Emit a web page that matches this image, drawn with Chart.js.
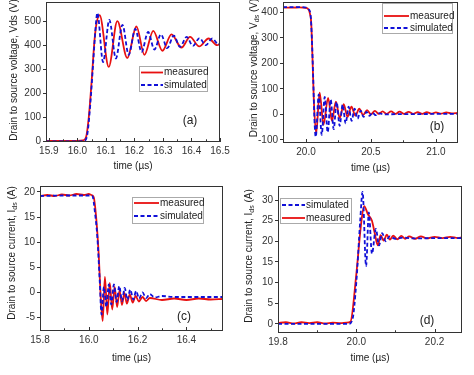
<!DOCTYPE html>
<html>
<head>
<meta charset="utf-8">
<script src="https://cdn.jsdelivr.net/npm/chart.js@4.4.0/dist/chart.umd.min.js"></script>
<style>
  html, body { margin: 0; padding: 0; background: #fff; }
  #wrap { position: relative; width: 474px; height: 375px; }
  .panel { position: absolute; }
</style>
</head>
<body>
<div id="wrap">
  <div class="panel" style="left:0;top:0;width:237px;height:180px"><canvas id="chartA"></canvas></div>
  <div class="panel" style="left:237px;top:0;width:237px;height:180px"><canvas id="chartB"></canvas></div>
  <div class="panel" style="left:0;top:184px;width:237px;height:191px"><canvas id="chartC"></canvas></div>
  <div class="panel" style="left:237px;top:184px;width:237px;height:191px"><canvas id="chartD"></canvas></div>
</div>
<script>
// (a) turn-off drain-source voltage, V
const aMeasT = [15.89, 15.95, 16.0, 16.02, 16.03, 16.04, 16.05, 16.06, 16.067, 16.078, 16.11, 16.14, 16.175, 16.207, 16.235, 16.266, 16.298, 16.33, 16.365, 16.395, 16.427, 16.46, 16.49, 16.5];
const aMeasV = [2, 2, 2, 4, 15, 100, 250, 420, 490, 525, 310, 500, 347, 478, 360, 460, 377, 445, 390, 435, 395, 428, 400, 405];
const aSimT = [15.89, 15.95, 16.0, 16.025, 16.035, 16.045, 16.055, 16.063, 16.07, 16.09, 16.112, 16.135, 16.158, 16.18, 16.203, 16.225, 16.248, 16.27, 16.293, 16.315, 16.338, 16.36, 16.383, 16.405, 16.428, 16.45, 16.473, 16.495, 16.5];
const aSimV = [0, 0, 0, 2, 30, 150, 320, 460, 535, 330, 505, 345, 485, 360, 468, 372, 455, 382, 445, 388, 440, 393, 435, 397, 430, 400, 428, 402, 408];

// (b) turn-on drain-source voltage, V
const bMeasT = [19.823, 19.9, 19.95, 20.0, 20.02, 20.03, 20.04, 20.05, 20.06, 20.078, 20.105, 20.135, 20.17, 20.2, 20.23, 20.26, 20.29, 20.32, 20.35, 20.38, 20.41, 20.44, 20.47, 20.5, 20.53, 20.56, 20.59, 20.62, 20.655, 20.69, 20.72, 20.755, 20.79, 20.825, 20.86, 20.895, 20.93, 20.965, 21.0, 21.04, 21.08, 21.12, 21.17];
const bMeasV = [418, 418, 419, 417, 410, 395, 360, 220, 60, -75, 85, -40, 65, -25, 50, -15, 40, -10, 30, -5, 22, -2, 17, 0, 14, 2, 12, 2, 12, 2, 11, 2, 10, 2, 9, 2, 9, 3, 8, 3, 8, 4, 6];
const bSimT = [19.823, 19.9, 19.95, 20.0, 20.02, 20.035, 20.045, 20.055, 20.065, 20.075, 20.098, 20.121, 20.144, 20.167, 20.19, 20.213, 20.236, 20.259, 20.282, 20.305, 20.328, 20.351, 20.374, 20.397, 20.42, 20.443, 20.466, 20.489, 20.512, 20.535, 20.558, 20.6, 20.7, 20.85, 21.0, 21.17];
const bSimV = [420, 420, 420, 418, 412, 390, 300, 150, -20, -88, 78, -80, 68, -70, 58, -58, 48, -45, 38, -35, 30, -25, 22, -17, 15, -10, 10, -6, 7, -3, 5, 0, 1, 1, 2, 2];

// (c) turn-off drain-source current, A
const cMeasT = [15.8, 15.83, 15.86, 15.89, 15.92, 15.95, 15.98, 16.0, 16.01, 16.02, 16.03, 16.04, 16.05, 16.057, 16.066, 16.076, 16.086, 16.096, 16.106, 16.116, 16.126, 16.136, 16.146, 16.156, 16.168, 16.18, 16.192, 16.205, 16.22, 16.235, 16.25, 16.3, 16.35, 16.4, 16.45, 16.5, 16.55];
const cMeasV = [19.2, 19.4, 19.2, 19.5, 19.3, 19.6, 19.4, 19.6, 19.4, 19.0, 15, 8, -2, -5.8, 3.0, -4.5, 1.8, -3.5, 1.0, -3.0, 0.3, -2.6, -0.2, -2.3, -0.5, -2.1, -0.8, -1.9, -1.0, -1.8, -1.2, -1.6, -1.3, -1.6, -1.3, -1.5, -1.4];
const cSimT = [15.8, 15.9, 16.0, 16.015, 16.025, 16.035, 16.045, 16.052, 16.062, 16.072, 16.082, 16.092, 16.103, 16.114, 16.125, 16.136, 16.147, 16.158, 16.17, 16.182, 16.194, 16.206, 16.22, 16.235, 16.25, 16.27, 16.3, 16.35, 16.4, 16.55];
const cSimV = [19.2, 19.3, 19.3, 19.2, 16, 11, 2, -4.5, 1.0, -3, 1.5, -2.5, 1.5, -2, 1.2, -1.8, 0.8, -1.6, 0.5, -1.5, 0.2, -1.3, -0.1, -1.2, -0.4, -1.1, -0.8, -1.0, -1.0, -1.0];

// (d) turn-on drain-source current, A
const dSimT = [19.8, 19.98, 19.99, 20.0, 20.01, 20.016, 20.025, 20.032, 20.04, 20.05, 20.058, 20.066, 20.075, 20.085, 20.1, 20.12, 20.15, 20.2, 20.27];
const dSimV = [0, 0, 1, 10, 25, 32, 14, 27, 17, 23, 19, 22, 20, 21.2, 20.6, 20.9, 20.7, 20.8, 20.8];
const dMeasT = [19.8, 19.82, 19.84, 19.86, 19.88, 19.9, 19.92, 19.94, 19.96, 19.975, 19.985, 20.0, 20.012, 20.02, 20.03, 20.04, 20.047, 20.055, 20.062, 20.07, 20.078, 20.086, 20.094, 20.105, 20.115, 20.125, 20.135, 20.15, 20.165, 20.18, 20.2, 20.22, 20.24, 20.26, 20.27];
const dMeasV = [0.2, 0.4, 0.1, 0.4, 0.2, 0.4, 0.1, 0.3, 0.2, 0.3, 0.5, 12, 24, 28.5, 26.5, 25, 22, 19, 21.5, 20.2, 21.6, 20.4, 21.4, 20.5, 21.3, 20.6, 21.2, 20.6, 21.2, 20.7, 21.1, 20.8, 21.1, 20.8, 21.0];

const RED = '#e81010';
const BLUE = '#1010d8';
const FONT = "'Liberation Sans', Arial, sans-serif";

// frame, inward x ticks, y title with subscript, legend box and panel letter
const panelDecor = {
  id: 'panelDecor',
  afterDatasetsDraw(chart, args, opts) {
    const { ctx, chartArea: a } = chart;
    const xs = chart.scales.x;
    ctx.save();
    ctx.strokeStyle = '#333';
    ctx.lineWidth = 1;
    ctx.strokeRect(a.left + 0.5, a.top + 0.5, a.right - a.left - 1, a.bottom - a.top - 1);

    // inward ticks on the time axis, minor ones half way
    const step = opts.xStep;
    ctx.beginPath();
    xs.ticks.forEach(t => {
      const px = Math.round(xs.getPixelForValue(t.value)) + 0.5;
      ctx.moveTo(px, a.bottom); ctx.lineTo(px, a.bottom - 4);
      [t.value - step / 2, t.value + step / 2].forEach(m => {
        if (m > xs.min && m < xs.max) {
          const pm = Math.round(xs.getPixelForValue(m)) + 0.5;
          ctx.moveTo(pm, a.bottom); ctx.lineTo(pm, a.bottom - 2.5);
        }
      });
    });
    ctx.stroke();

    // y title
    ctx.save();
    ctx.translate(opts.tx, opts.ty);
    ctx.rotate(-Math.PI / 2);
    ctx.fillStyle = '#222';
    ctx.textBaseline = 'middle';
    const normal = '10px ' + FONT, small = '7px ' + FONT;
    let total = 0;
    opts.ytitle.forEach((s, i) => { ctx.font = i % 2 ? small : normal; total += ctx.measureText(s).width; });
    let x = -total / 2;
    opts.ytitle.forEach((s, i) => {
      ctx.font = i % 2 ? small : normal;
      ctx.fillText(s, x, i % 2 ? 3 : 0);
      x += ctx.measureText(s).width;
    });
    ctx.restore();

    // legend
    const lg = opts.legend;
    ctx.strokeStyle = '#aaa';
    ctx.strokeRect(lg.x + 0.5, lg.y + 0.5, lg.w, lg.h);
    chart.data.datasets.forEach((ds, i) => {
      const ry = lg.rows[i];
      ctx.beginPath();
      ctx.strokeStyle = ds.borderColor;
      ctx.lineWidth = ds.borderWidth;
      ctx.setLineDash(ds.borderDash || []);
      ctx.moveTo(lg.x + 2, ry); ctx.lineTo(lg.x + 2 + lg.sample, ry);
      ctx.stroke();
      ctx.setLineDash([]);
      ctx.fillStyle = '#222';
      ctx.font = '10px ' + FONT;
      ctx.textBaseline = 'middle';
      ctx.textAlign = 'left';
      ctx.fillText(ds.label, lg.x + 3 + lg.sample, ry);
    });

    // panel letter
    ctx.fillStyle = '#222';
    ctx.font = '12px ' + FONT;
    ctx.textAlign = 'center';
    ctx.textBaseline = 'middle';
    ctx.fillText(opts.letter, opts.lx, opts.ly);
    ctx.restore();
  }
};

function makeChart(canvasId, p) {
  const tickFont = { family: FONT, size: 10 };
  return new Chart(document.getElementById(canvasId), {
    type: 'line',
    data: {
      datasets: p.series.map(s => ({
        label: s.label,
        data: s.t.map((t, i) => ({ x: t, y: s.v[i] })),
        borderColor: s.color,
        borderWidth: 1.8,
        borderDash: s.dash || [],
        pointRadius: 0,
        cubicInterpolationMode: 'monotone',
        fill: false,
        order: s.order
      }))
    },
    options: {
      responsive: true,
      maintainAspectRatio: false,
      animation: false,
      layout: { padding: p.pad },
      plugins: {
        legend: { display: false },
        tooltip: { enabled: false },
        panelDecor: p.decor
      },
      scales: {
        x: {
          type: 'linear',
          min: p.xMin,
          max: p.xMax,
          afterFit: s => { s.height = p.xh; s.paddingLeft = 0; s.paddingRight = 0; },
          grid: { display: false, drawTicks: false },
          border: { display: false },
          ticks: {
            stepSize: p.decor.xStep,
            includeBounds: false,
            autoSkip: false,
            maxRotation: 0,
            padding: 3,
            color: '#333',
            font: tickFont,
            callback: v => v.toFixed(1)
          },
          title: {
            display: true,
            text: 'time (µs)',
            color: '#222',
            font: tickFont,
            padding: { top: 0, bottom: p.tpb }
          }
        },
        y: {
          min: p.yMin,
          max: p.yMax,
          afterFit: s => { s.width = p.yw; s.paddingTop = 0; s.paddingBottom = 0; },
          grid: { drawOnChartArea: false, drawTicks: true, tickLength: 3, color: '#333' },
          border: { display: false },
          ticks: {
            stepSize: p.yStep,
            includeBounds: false,
            autoSkip: false,
            padding: 2,
            color: '#333',
            font: tickFont
          }
        }
      }
    },
    plugins: [panelDecor]
  });
}

makeChart('chartA', {
  series: [
    { label: 'measured', t: aMeasT, v: aMeasV, color: RED, order: 1 },
    { label: 'simulated', t: aSimT, v: aSimV, color: BLUE, dash: [4, 2.5], order: 0 }
  ],
  xMin: 15.89, xMax: 16.5, yMin: -3, yMax: 580, yStep: 100,
  pad: { left: 0, top: 2, right: 17, bottom: 0 }, yw: 46, xh: 38, tpb: 8,
  decor: {
    xStep: 0.1, tx: 14, ty: 70,
    ytitle: ['Drain to source voltage, Vds (V)'],
    legend: { x: 139, y: 66, w: 68, h: 25, rows: [72.5, 85], sample: 22 },
    letter: '(a)', lx: 190, ly: 121
  }
});

makeChart('chartB', {
  series: [
    { label: 'measured', t: bMeasT, v: bMeasV, color: RED, order: 1 },
    { label: 'simulated', t: bSimT, v: bSimV, color: BLUE, dash: [4, 2.5], order: 0 }
  ],
  xMin: 19.823, xMax: 21.17, yMin: -112, yMax: 440, yStep: 100,
  pad: { left: 0, top: 2, right: 16, bottom: 0 }, yw: 46, xh: 37, tpb: 6,
  decor: {
    xStep: 0.5, tx: 17, ty: 68,
    ytitle: ['Drain to source voltage, V', 'ds', ' (V)'],
    legend: { x: 145, y: 3, w: 70, h: 30, rows: [16, 28], sample: 25 },
    letter: '(b)', lx: 200, ly: 127
  }
});

makeChart('chartC', {
  series: [
    { label: 'measured', t: cMeasT, v: cMeasV, color: RED, order: 1 },
    { label: 'simulated', t: cSimT, v: cSimV, color: BLUE, dash: [4, 2.5], order: 0 }
  ],
  xMin: 15.8, xMax: 16.55, yMin: -7.8, yMax: 21.2, yStep: 5,
  pad: { left: 0, top: 2, right: 14, bottom: 0 }, yw: 40, xh: 44, tpb: 11,
  decor: {
    xStep: 0.2, tx: 12, ty: 69,
    ytitle: ['Drain to source current, I', 'ds', ' (A)'],
    legend: { x: 132, y: 13, w: 71, h: 26, rows: [19, 32], sample: 25 },
    letter: '(c)', lx: 184, ly: 133
  }
});

makeChart('chartD', {
  series: [
    { label: 'simulated', t: dSimT, v: dSimV, color: BLUE, dash: [4, 2.5], order: 0 },
    { label: 'measured', t: dMeasT, v: dMeasV, color: RED, order: 1 }
  ],
  xMin: 19.8, xMax: 20.27, yMin: -2.2, yMax: 33.4, yStep: 5,
  pad: { left: 0, top: 2, right: 12, bottom: 0 }, yw: 41, xh: 42, tpb: 11,
  decor: {
    xStep: 0.2, tx: 12, ty: 72,
    ytitle: ['Drain to source current, I', 'ds', ' (A)'],
    legend: { x: 43, y: 14, w: 71, h: 25, rows: [21, 34], sample: 23 },
    letter: '(d)', lx: 190, ly: 137
  }
});
</script>
</body>
</html>
